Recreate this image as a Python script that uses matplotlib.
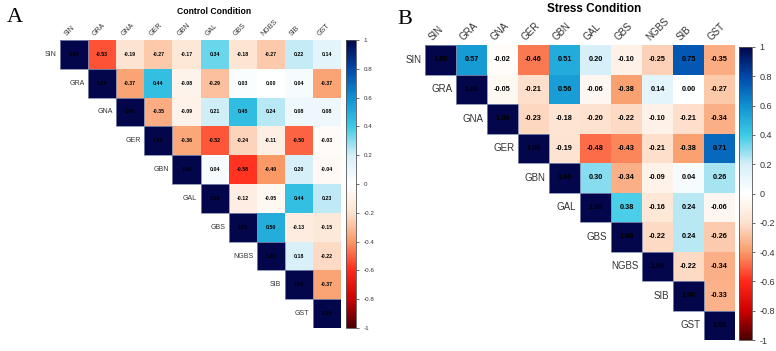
import numpy as np
import matplotlib
matplotlib.use("Agg")
import matplotlib.pyplot as plt
from matplotlib.colors import LinearSegmentedColormap
from matplotlib.patches import Rectangle

plt.rcParams["font.family"] = ["Liberation Sans", "DejaVu Sans"]

traits = ["SIN", "GRA", "GNA", "GER", "GBN", "GAL", "GBS", "NGBS", "SIB", "GST"]

# upper triangle of each correlation matrix, row by row (diagonal included)
control_rows = [
    [1.00, -0.53, -0.19, -0.27, -0.17, 0.34, -0.18, -0.27, 0.22, 0.14],
    [1.00, -0.37, 0.44, -0.08, -0.29, 0.03, 0.00, 0.04, -0.37],
    [1.00, -0.35, -0.09, 0.21, 0.45, 0.24, 0.08, 0.08],
    [1.00, -0.36, -0.52, -0.24, -0.11, -0.50, -0.03],
    [1.00, 0.04, -0.58, -0.40, 0.20, -0.04],
    [1.00, -0.12, -0.05, 0.44, 0.23],
    [1.00, 0.50, -0.13, -0.15],
    [1.00, 0.18, -0.22],
    [1.00, -0.37],
    [1.00],
]

stress_rows = [
    [1.00, 0.57, -0.02, -0.46, 0.51, 0.20, -0.10, -0.25, 0.75, -0.35],
    [1.00, -0.05, -0.21, 0.56, -0.06, -0.38, 0.14, 0.00, -0.27],
    [1.00, -0.23, -0.18, -0.20, -0.22, -0.10, -0.21, -0.34],
    [1.00, -0.19, -0.48, -0.43, -0.21, -0.38, 0.71],
    [1.00, 0.30, -0.34, -0.09, 0.04, 0.26],
    [1.00, 0.38, -0.16, 0.24, -0.06],
    [1.00, -0.22, 0.24, -0.26],
    [1.00, -0.22, -0.34],
    [1.00, -0.33],
    [1.00],
]

cbar_ticks = [-1, -0.8, -0.6, -0.4, -0.2, 0, 0.2, 0.4, 0.6, 0.8, 1]

cmap = LinearSegmentedColormap.from_list(
    "corr",
    [(0.0, "#4a0000"), (0.1, "#d00000"), (0.2, "#ff2a1a"), (0.3, "#fa9a68"),
     (0.4, "#fde2cf"), (0.5, "#ffffff"), (0.6, "#d6eff8"), (0.7, "#3ccbe6"),
     (0.8, "#0f92d2"), (0.9, "#0048aa"), (1.0, "#03064a")],
)


def to_matrix(rows):
    n = len(rows)
    m = np.full((n, n), np.nan)
    for i, r in enumerate(rows):
        m[i, i:] = r
    return np.ma.masked_invalid(m)


def corr_panel(fig, rect, crect, rows, title, title_pos, title_size,
               lab_size, num_size, cb_size):
    ax = fig.add_axes(rect)
    m = to_matrix(rows)
    n = len(traits)
    edges = np.arange(n + 1) - 0.5
    mesh = ax.pcolormesh(edges, edges, m, cmap=cmap, vmin=-1, vmax=1,
                         linewidth=0)
    ax.set_xlim(-0.5, n - 0.5)
    ax.set_ylim(n - 0.5, -0.5)
    ax.axis("off")
    for i in range(n):
        # diagonal cells carry a light outline in the original
        ax.add_patch(Rectangle((i - 0.5, i - 0.5), 1, 1, fill=False,
                               edgecolor="#7f8db0", linewidth=0.6))
        for j in range(i, n):
            ax.text(j, i, f"{m[i, j]:.2f}", ha="center", va="center",
                    fontsize=num_size, fontweight="bold", color="black")
        ax.text(i - 0.62, i, traits[i], ha="right", va="center",
                fontsize=lab_size, color="#333333")
        ax.text(i - 0.2, -0.6, traits[i], ha="left", va="bottom",
                rotation=45, rotation_mode="anchor",
                fontsize=lab_size, color="#333333")
    cax = fig.add_axes(crect)
    cb = fig.colorbar(mesh, cax=cax, ticks=cbar_ticks)
    cb.ax.set_yticklabels([f"{t:g}" for t in cbar_ticks])
    cb.ax.tick_params(labelsize=cb_size, length=2, width=0.5, colors="#333333")
    cb.outline.set_linewidth(0.6)
    cb.outline.set_edgecolor("#555555")
    fig.text(title_pos[0], title_pos[1], title, ha="center", va="center",
             fontsize=title_size, fontweight="bold")
    return ax


fig = plt.figure(figsize=(7.76, 3.51), dpi=100)

corr_panel(fig, [60 / 776, 1 - 328 / 351, 281 / 776, 288 / 351],
           [346 / 776, 1 - 328 / 351, 10 / 776, 288 / 351],
           control_rows, "Control Condition", (214 / 776, 1 - 11 / 351),
           6.2, 5, 3.8, 4.5)

corr_panel(fig, [425 / 776, 1 - 340 / 351, 310 / 776, 295 / 351],
           [739 / 776, 1 - 340 / 351, 13 / 776, 293 / 351],
           stress_rows, "Stress Condition", (594 / 776, 1 - 9 / 351),
           8.5, 7, 5.3, 6.5)

fig.text(15 / 776, 1 - 18 / 351, "A", ha="center", va="center",
         fontsize=16, family=["Liberation Serif", "DejaVu Serif"])
fig.text(405 / 776, 1 - 20 / 351, "B", ha="center", va="center",
         fontsize=16, family=["Liberation Serif", "DejaVu Serif"])

fig.savefig("out.png", dpi=100)
